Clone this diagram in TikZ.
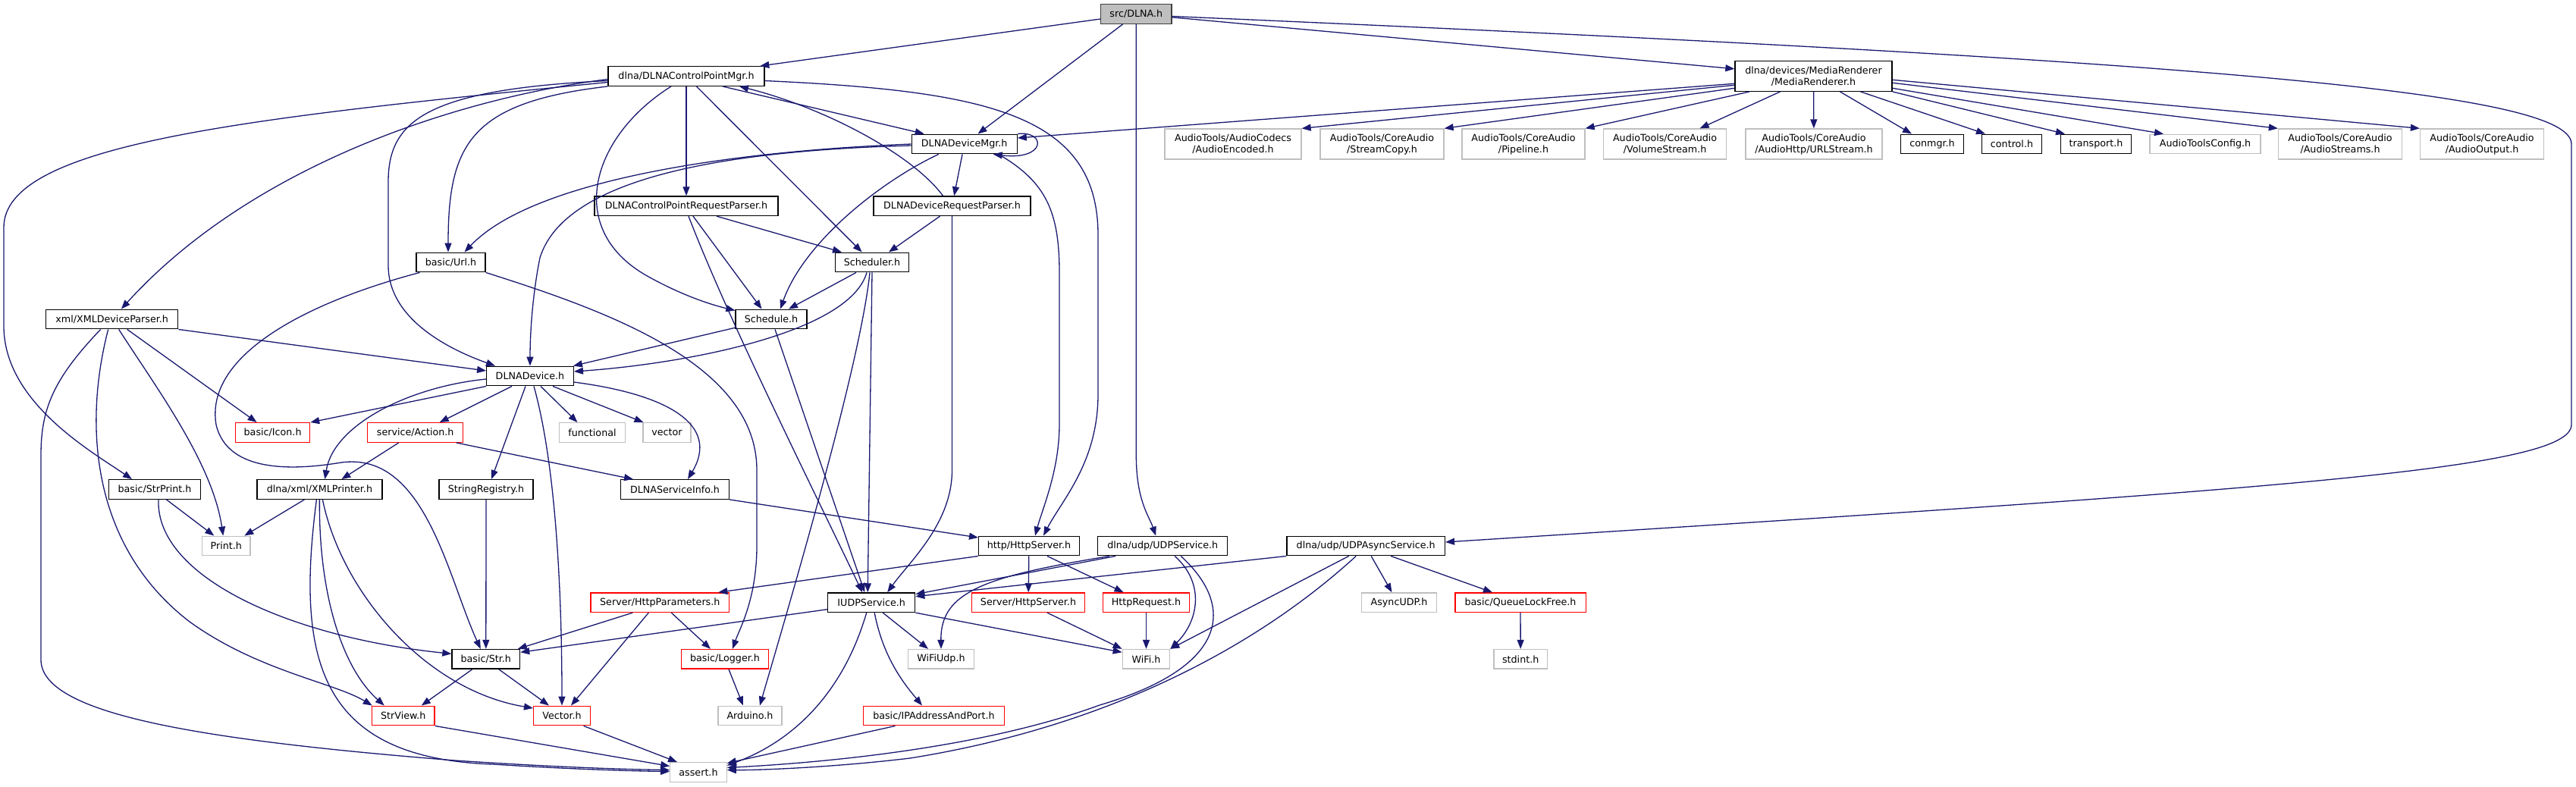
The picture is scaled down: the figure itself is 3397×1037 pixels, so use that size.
\documentclass[tikz,border=0pt]{standalone}
\usepackage{fontspec}
\setmainfont{DejaVu Sans}
\usetikzlibrary{arrows.meta}
\definecolor{edgec}{HTML}{191970}
\definecolor{grayb}{HTML}{BFBFBF}
\definecolor{rootb}{HTML}{404040}
\definecolor{redb}{HTML}{FF0000}
\newcommand\nodefnt{\fontsize{12.7pt}{15pt}\selectfont}
\tikzset{
  nbase/.style={rectangle, line width=1.3pt, inner sep=0pt, minimum height=25.6pt, align=center, font=\nodefnt, fill=white, text=black},
  nb/.style={nbase, draw=black},
  ng/.style={nbase, draw=grayb},
  nr/.style={nbase, draw=redb},
  nroot/.style={nbase, draw=rootb, fill=grayb},
  twoline/.style={minimum height=40pt},
  dep/.style={draw=edgec, line width=1.3pt, -{Triangle[length=12pt,width=9pt]}}
}
\begin{document}
\begin{tikzpicture}[x=1pt,y=-1pt]
\useasboundingbox[fill=white] (0,0) rectangle (3397,1037);
% nodes
\node[nroot, minimum width=93.4pt] (dlna) at (1498.3,18.5) {src/DLNA.h};
\node[nb, minimum width=206pt] (cpm) at (905,100.5) {dlna/DLNAControlPointMgr.h};
\node[nb, twoline, minimum width=207pt] (mr) at (2391.5,100.3) {dlna/devices/MediaRenderer\\/MediaRenderer.h};
\node[nb, minimum width=139pt] (dm) at (1271.7,190) {DLNADeviceMgr.h};
\node[ng, twoline, minimum width=180pt] (aenc) at (1626,190) {AudioTools/AudioCodecs\\/AudioEncoded.h};
\node[ng, twoline, minimum width=163pt] (scopy) at (1822.5,190) {AudioTools/CoreAudio\\/StreamCopy.h};
\node[ng, twoline, minimum width=162pt] (pipe) at (2009,190) {AudioTools/CoreAudio\\/Pipeline.h};
\node[ng, twoline, minimum width=162pt] (vol) at (2195.6,190) {AudioTools/CoreAudio\\/VolumeStream.h};
\node[ng, twoline, minimum width=180pt] (urls) at (2392,190) {AudioTools/CoreAudio\\/AudioHttp/URLStream.h};
\node[nb, minimum width=83pt] (conmgr) at (2548,190) {conmgr.h};
\node[nb, minimum width=78.6pt] (control) at (2653,190) {control.h};
\node[nb, minimum width=93pt] (transport) at (2764,190) {transport.h};
\node[ng, minimum width=146pt] (atcfg) at (2908,190) {AudioToolsConfig.h};
\node[ng, twoline, minimum width=163pt] (astreams) at (3086,190) {AudioTools/CoreAudio\\/AudioStreams.h};
\node[ng, twoline, minimum width=163pt] (aout) at (3273,190) {AudioTools/CoreAudio\\/AudioOutput.h};
\node[nb, minimum width=242pt] (cprp) at (905,271.7) {DLNAControlPointRequestParser.h};
\node[nb, minimum width=207pt] (drp) at (1255.5,271.7) {DLNADeviceRequestParser.h};
\node[nb, minimum width=91pt] (url) at (594.5,346) {basic/Url.h};
\node[nb, minimum width=97.5pt] (sched) at (1150,346) {Scheduler.h};
\node[nb, minimum width=174pt] (xdp) at (147.7,421) {xml/XMLDeviceParser.h};
\node[nb, minimum width=94pt] (schedule) at (1017,421) {Schedule.h};
\node[nb, minimum width=114.6pt] (dev) at (699,496) {DLNADevice.h};
\node[nr, minimum width=98pt] (icon) at (359.6,570.5) {basic/Icon.h};
\node[nr, minimum width=126pt] (action) at (547.7,570.5) {service/Action.h};
\node[ng, minimum width=87pt] (functional) at (781,570.5) {functional};
\node[ng, minimum width=63pt] (vector) at (879.5,570.5) {vector};
\node[nb, minimum width=120.4pt] (strprint) at (204,645.5) {basic/StrPrint.h};
\node[nb, minimum width=165pt] (xmlp) at (421.4,645.5) {dlna/xml/XMLPrinter.h};
\node[nb, minimum width=124pt] (strreg) at (641,645.5) {StringRegistry.h};
\node[nb, minimum width=143pt] (svcinfo) at (890,645.5) {DLNAServiceInfo.h};
\node[ng, minimum width=63.3pt] (print) at (298.3,720) {Print.h};
\node[nb, minimum width=132.7pt] (httpserver) at (1357,720) {http/HttpServer.h};
\node[nb, minimum width=171pt] (udps) at (1533.2,720) {dlna/udp/UDPService.h};
\node[nb, minimum width=208.4pt] (udpas) at (1801.2,720) {dlna/udp/UDPAsyncService.h};
\node[nr, minimum width=182.7pt] (httpparams) at (870.3,794.7) {Server/HttpParameters.h};
\node[nb, minimum width=115pt] (iudp) at (1149.2,794.7) {IUDPService.h};
\node[nr, minimum width=149pt] (shttpserver) at (1356,794.7) {Server/HttpServer.h};
\node[nr, minimum width=114.4pt] (httpreq) at (1511.5,794.7) {HttpRequest.h};
\node[ng, minimum width=99pt] (asyncudp) at (1845,794.7) {AsyncUDP.h};
\node[nr, minimum width=172.3pt] (qlf) at (2005,794.7) {basic/QueueLockFree.h};
\node[nb, minimum width=89.6pt] (str) at (640.8,869.3) {basic/Str.h};
\node[nr, minimum width=114.4pt] (logger) at (956,869.3) {basic/Logger.h};
\node[ng, minimum width=87.3pt] (wifiudp) at (1241,869.3) {WiFiUdp.h};
\node[ng, minimum width=62.4pt] (wifi) at (1511.5,869.3) {WiFi.h};
\node[ng, minimum width=70.4pt] (stdint) at (2005.2,869.3) {stdint.h};
\node[nr, minimum width=82.5pt] (strview) at (531.8,944) {StrView.h};
\node[nr, minimum width=74.8pt] (vectorh) at (741,944) {Vector.h};
\node[ng, minimum width=84pt] (arduino) at (989,944) {Arduino.h};
\node[nr, minimum width=186.5pt] (ipaddr) at (1231.5,944) {basic/IPAddressAndPort.h};
\node[ng, minimum width=74.4pt] (assert) at (921,1018.5) {assert.h};

% root edges
\draw[dep] (dlna) -- (cpm);
\draw[dep] (dlna) -- (dm);
\draw[dep] (dlna.south) -- (1498.3,600) .. controls (1498.3,660) and (1515,680) .. ([xshift=-9pt]udps.north);
\draw[dep] (dlna) -- (mr);
\draw[dep] ([yshift=-3pt]dlna.east) .. controls (2900,80) and (3391,120) .. (3391,190) -- (3391,560) .. controls (3391,620) and (3000,645) .. ([yshift=5pt]udpas.east);

% cpm edges
\draw[dep] ([yshift=-4pt]cpm.west) .. controls (600,130) and (330,220) .. (xdp);
\draw[dep] ([yshift=-8pt]cpm.west) .. controls (322,156) and (5,190) .. (5,300) -- (5,430) .. controls (5,530) and (120,595) .. ([xshift=-30pt]strprint.north);
\draw[dep] ([yshift=-6pt]cpm.west) .. controls (560,118) and (512,160) .. (512,240) -- (512,350) .. controls (512,420) and (590,460) .. ([xshift=-46pt]dev.north);
\draw[dep] (cpm.south west) .. controls (620,135) and (591,190) .. ([xshift=-3.5pt]url.north);
\draw[dep] ([xshift=-20pt]cpm.south) .. controls (780,180) and (745,300) .. (850,362) .. controls (890,385) and (930,400) .. (schedule);
\draw[dep] (cpm) -- (cprp);
\draw[dep] (cpm) -- (sched);
\draw[dep] ([xshift=48pt]cpm.south) -- ([xshift=-53pt]dm.north);
\draw[dep] ([yshift=-6pt]cpm.east) .. controls (1300,120) and (1448,150) .. (1448,310) -- (1448,520) .. controls (1448,610) and (1400,660) .. ([xshift=19pt]httpserver.north);
\draw[dep] ([xshift=-12pt]drp.north) .. controls (1200,200) and (1080,140) .. ([xshift=70pt]cpm.south);

% dm edges
\draw[dep] (dm.north east) .. controls (1380,172) and (1380,212) .. ([xshift=38pt]dm.south);
\draw[dep] (dm) -- (drp);
\draw[dep] ([xshift=-34pt]dm.south) .. controls (1160,240) and (1060,320) .. ([xshift=12pt]schedule.north);
\draw[dep] (dm.west) .. controls (950,200) and (700,240) .. ([xshift=18pt]url.north);
\draw[dep] ([yshift=-2pt]dm.west) .. controls (900,200) and (740,250) .. (712,340) .. controls (702,390) and (699,440) .. (dev.north);
\draw[dep] ([xshift=45pt]dm.south) .. controls (1380,240) and (1397,280) .. (1397,360) -- (1397,560) .. controls (1397,620) and (1375,670) .. ([xshift=8pt]httpserver.north);
\draw[dep] ([yshift=-10pt]mr.west) -- ([yshift=8pt]dm.east);

% cprp / drp
\draw[dep] ([xshift=40pt]cprp.south) -- ([xshift=-40pt]sched.north);
\draw[dep] ([xshift=9pt]cprp.south) -- ([xshift=-12.5pt]schedule.north);
\draw[dep] ([xshift=3pt]cprp.south) .. controls (960,420) and (1060,620) .. ([xshift=-12pt]iudp.north);
\draw[dep] ([xshift=-16pt]drp.south) -- ([xshift=22pt]sched.north);
\draw[dep] (drp.south) -- (1255.5,620) .. controls (1255.5,690) and (1200,740) .. ([xshift=21pt]iudp.north);

% scheduler / schedule
\draw[dep] ([xshift=-21pt]sched.south) -- ([xshift=23pt]schedule.north);
\draw[dep] ([xshift=-7pt]sched.south) .. controls (1120,440) and (900,480) .. ([yshift=6pt]dev.east);
\draw[dep] (sched.south) -- ([xshift=-5pt]iudp.north);
\draw[dep] ([xshift=-3pt]sched.south) .. controls (1135,480) and (1040,800) .. ([xshift=13pt]arduino.north);
\draw[dep] (schedule) -- (dev);
\draw[dep] ([xshift=5pt]schedule.south) -- ([xshift=-9pt]iudp.north);

% xml device parser
\draw[dep] (xdp.south east) -- ([yshift=7pt]dev.west);
\draw[dep] ([xshift=20pt]xdp.south) -- ([xshift=-21pt]icon.north);
\draw[dep] ([xshift=9pt]xdp.south) .. controls (205,510) and (280,610) .. ([xshift=-4pt]print.north);
\draw[dep] ([xshift=-5pt]xdp.south) .. controls (110,560) and (120,720) .. (250,820) .. controls (340,885) and (440,900) .. ([xshift=-41pt]strview.north);
\draw[dep] ([xshift=-15pt]xdp.south) .. controls (70,500) and (54,540) .. (54,600) -- (54,870) .. controls (54,940) and (250,975) .. (600,1003) .. controls (750,1013) and (840,1015) .. ([yshift=3pt]assert.west);

% url
\draw[dep] ([xshift=-41pt]url.south) .. controls (400,400) and (270,470) .. (285,560) .. controls (300,625) and (390,620) .. (450,610) .. controls (560,595) and (590,760) .. ([xshift=-7pt]str.north);
\draw[dep] (url.south east) .. controls (800,410) and (998,480) .. (998,620) -- (998,720) .. controls (998,790) and (975,830) .. ([xshift=10pt]logger.north);

% DLNADevice
\draw[dep] ([yshift=-4pt]dev.west) .. controls (540,510) and (440,560) .. ([xshift=7pt]xmlp.north);
\draw[dep] (dev.south west) -- (icon.north east);
\draw[dep] ([xshift=-24pt]dev.south) -- ([xshift=32pt]action.north);
\draw[dep] ([xshift=-6pt]dev.south) -- ([xshift=7pt]strreg.north);
\draw[dep] ([xshift=5pt]dev.south) .. controls (735,620) and (741,800) .. (vectorh.north);
\draw[dep] ([xshift=14pt]dev.south) -- ([xshift=-19.5pt]functional.north);
\draw[dep] ([xshift=30pt]dev.south) -- ([xshift=-31pt]vector.north);
\draw[dep] ([yshift=-8pt]dev.east) .. controls (880,520) and (950,560) .. ([xshift=17pt]svcinfo.north);

% action
\draw[dep] ([xshift=-22pt]action.south) -- ([xshift=29pt]xmlp.north);
\draw[dep] ([xshift=54pt]action.south) -- ([xshift=-55pt]svcinfo.north);

% strprint
\draw[dep] ([xshift=15.5pt]strprint.south) -- ([xshift=-16pt]print.north);
\draw[dep] ([xshift=5pt]strprint.south) .. controls (205,760) and (380,840) .. ([yshift=7pt]str.west);

% xmlprinter
\draw[dep] ([xshift=-20pt]xmlp.south) -- ([xshift=24pt]print.north);
\draw[dep] (xmlp.south) .. controls (420,780) and (450,880) .. ([xshift=-25pt]strview.north);
\draw[dep] ([xshift=4pt]xmlp.south) .. controls (450,780) and (560,910) .. ([yshift=10pt]vectorh.west);
\draw[dep] ([xshift=-4pt]xmlp.south) .. controls (390,870) and (420,1000) .. (650,1008) .. controls (760,1015) and (840,1017) .. ([yshift=1pt]assert.west);

\draw[dep] (strreg) -- (str);

% http parameters
\draw[dep] ([xshift=-36pt]httpparams.south) -- ([xshift=42pt]str.north);
\draw[dep] ([xshift=-15pt]httpparams.south) -- ([xshift=12pt]vectorh.north);
\draw[dep] ([xshift=15pt]httpparams.south) -- ([xshift=-19pt]logger.north);

% IUDPService
\draw[dep] ([yshift=-9pt]iudp.west) -- ([yshift=9pt]str.east);
\draw[dep] ([xshift=15pt]iudp.south) -- ([xshift=-17pt]wifiudp.north);
\draw[dep] (iudp.south east) -- ([yshift=9pt]wifi.west);
\draw[dep] ([xshift=4pt]iudp.south) .. controls (1165,870) and (1195,905) .. ([xshift=-15.5pt]ipaddr.north);
\draw[dep] ([xshift=-6.5pt]iudp.south) .. controls (1110,920) and (1040,980) .. ([yshift=9pt]assert.east);

% http server
\draw[dep] (httpserver.south west) -- ([xshift=77pt]httpparams.north);
\draw[dep] (httpserver) -- (shttpserver);
\draw[dep] ([xshift=24pt]httpserver.south) -- ([xshift=-30pt]httpreq.north);
\draw[dep] (svcinfo.south east) -- ([yshift=11pt]httpserver.west);

% UDPService
\draw[dep] ([xshift=-62pt]udps.south) -- ([yshift=11pt]iudp.east);
\draw[dep] ([xshift=-70pt]udps.south) .. controls (1300,760) and (1240,780) .. (wifiudp.north);
\draw[dep] ([xshift=16pt]udps.south) .. controls (1590,770) and (1580,820) .. (wifi.north east);
\draw[dep] ([xshift=24pt]udps.south) .. controls (1630,800) and (1620,880) .. (1450,930) .. controls (1300,985) and (1100,1005) .. ([yshift=6pt]assert.east);

% UDPAsyncService
\draw[dep] (udpas.south west) -- ([yshift=8pt]iudp.east);
\draw[dep] ([xshift=-22.6pt]udpas.south) -- (wifi.north east);
\draw[dep] ([xshift=-13pt]udpas.south) .. controls (1650,860) and (1450,960) .. (1200,1000) .. controls (1100,1012) and (1000,1016) .. ([yshift=3pt]assert.east);
\draw[dep] ([xshift=7pt]udpas.south) -- ([xshift=-9.5pt]asyncudp.north);
\draw[dep] ([xshift=33pt]udpas.south) -- ([xshift=-37pt]qlf.north);
\draw[dep] (qlf) -- (stdint);

% others
\draw[dep] ([xshift=25pt]shttpserver.south) -- (wifi.north west);
\draw[dep] (httpreq) -- (wifi);
\draw[dep] ([xshift=5pt]logger.south) -- ([xshift=-9pt]arduino.north);
\draw[dep] ([xshift=-51pt]ipaddr.south) -- ([yshift=12pt]assert.east);
\draw[dep] ([xshift=-18pt]str.south) -- ([xshift=24pt]strview.north);
\draw[dep] ([xshift=17pt]str.south) -- ([xshift=-17pt]vectorh.north);
\draw[dep] (strview.south east) -- ([yshift=8pt]assert.west);
\draw[dep] ([xshift=28.6pt]vectorh.south) -- ([xshift=-28pt]assert.north);

% MediaRenderer
\draw[dep] ([yshift=-12pt]mr.west) -- (aenc.north east);
\draw[dep] ([yshift=-16pt]mr.west) -- (scopy.north east);
\draw[dep] ([xshift=-84.5pt]mr.south) -- (pipe.north east);
\draw[dep] ([xshift=-44pt]mr.south) -- ([xshift=46pt]vol.north);
\draw[dep] (mr) -- (urls);
\draw[dep] ([xshift=35pt]mr.south) -- ([xshift=-27pt]conmgr.north);
\draw[dep] ([xshift=62pt]mr.south) -- ([xshift=-35pt]control.north);
\draw[dep] (mr.south east) -- ([xshift=-41pt]transport.north);
\draw[dep] ([yshift=-16pt]mr.east) -- ([xshift=-55pt]atcfg.north);
\draw[dep] ([yshift=-9pt]mr.east) -- (astreams.north west);
\draw[dep] ([yshift=-5pt]mr.east) -- (aout.north west);
\end{tikzpicture}
\end{document}
